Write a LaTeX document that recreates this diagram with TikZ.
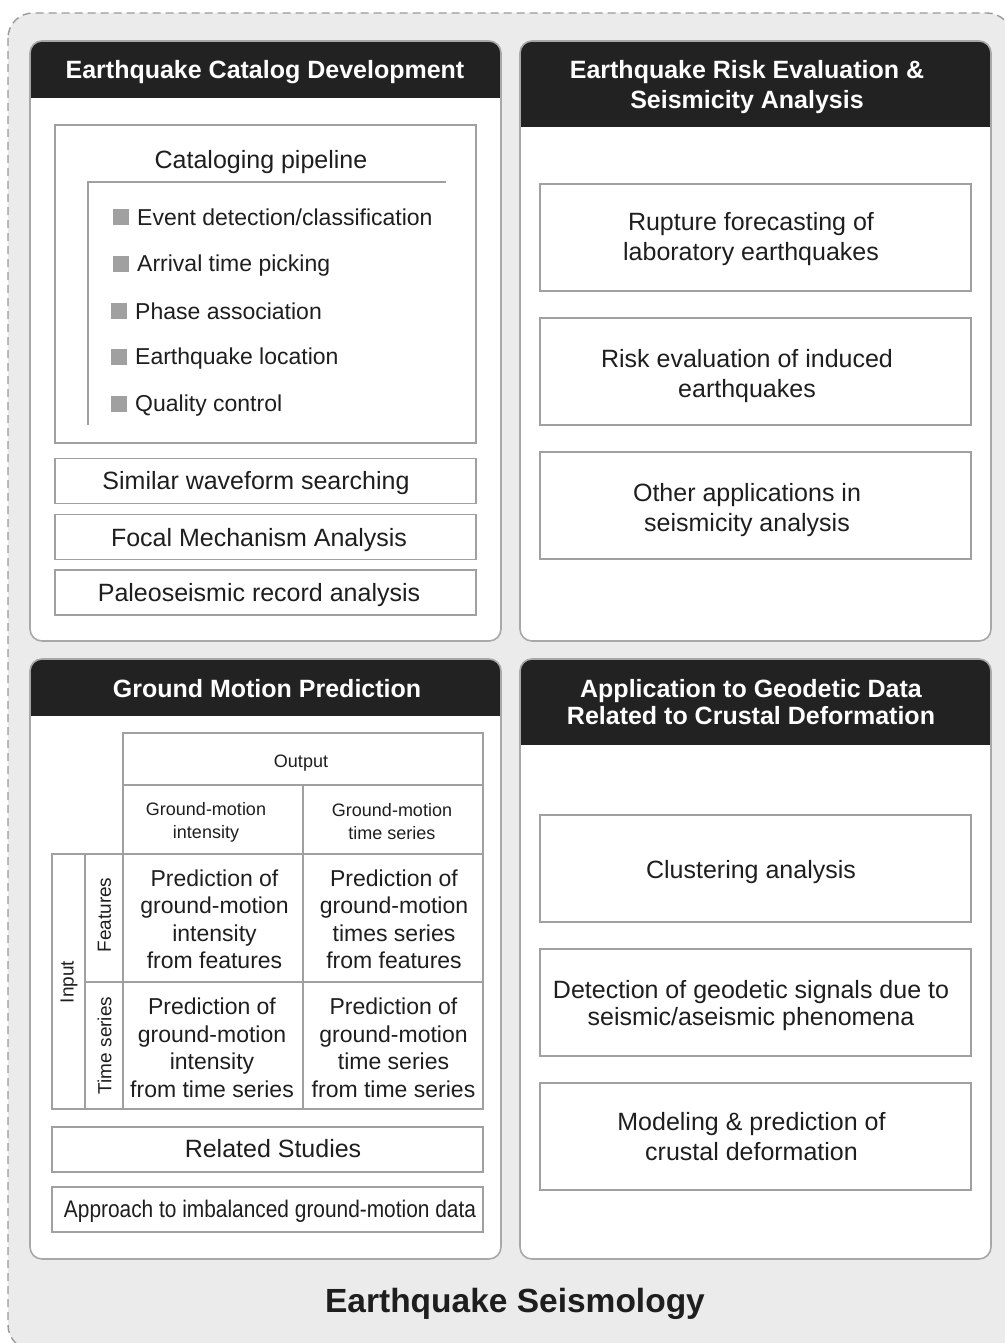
\documentclass[tikz,border=0pt]{standalone}
\usepackage{fontspec}
\setmainfont{Liberation Sans}
\definecolor{bg}{HTML}{EBEBEB}
\definecolor{hdr}{HTML}{222222}
\definecolor{bord}{HTML}{A0A0A0}
\definecolor{pbord}{HTML}{A8A8A8}
\definecolor{dashc}{HTML}{9A9A9A}
\definecolor{txt}{HTML}{1E1E1E}
\definecolor{bul}{HTML}{A0A0A0}
\begin{document}
\begin{tikzpicture}[x=1pt,y=-1pt,
  every node/.style={text=txt, inner sep=0pt},
  panel/.style={draw=pbord, line width=1.6pt, fill=white, rounded corners=12pt,
    minimum width=471pt, minimum height=600pt,
    path picture={\fill[hdr, sharp corners] (path picture bounding box.north west) rectangle ([yshift=-#1]path picture bounding box.north east);}},
  hdrtxt/.style={text=white, font=\bfseries\fontsize{25}{30}\selectfont, align=center},
  box/.style={draw=bord, line width=1.6pt, fill=white},
  boxt/.style={font=\fontsize{25}{30}\selectfont, align=center},
  cell/.style={draw=bord, line width=1.6pt},
  tab/.style={font=\fontsize{23}{27.5}\selectfont, align=center},
  small/.style={font=\fontsize{18}{23}\selectfont, align=center},
  rot/.style={font=\fontsize{19}{23}\selectfont, rotate=90},
  bullet/.style={fill=bul, minimum size=16pt},
  item/.style={font=\fontsize{23}{30}\selectfont, anchor=west}
]
\useasboundingbox (0,0) rectangle (1004,1343);
% outer background
\draw[draw=dashc, fill=bg, line width=1.4pt, dash pattern=on 8pt off 5pt, rounded corners=25pt] (8,13) rectangle (1012,1350);

% panels
\node[panel=57pt] (p1) at (265.5,341) {};
\node[panel=86pt] (p2) at (755.5,341) {};
\node[panel=57pt] (p3) at (265.5,959) {};
\node[panel=86pt] (p4) at (755.5,959) {};

\node[hdrtxt] (h1) at (265,72) {Earthquake Catalog Development};
\node[hdrtxt] (h2) at (747,87) {Earthquake Risk Evaluation \&\\Seismicity Analysis};
\node[hdrtxt] (h3) at (267,689) {Ground Motion Prediction};
\node[hdrtxt, font=\bfseries\fontsize{25}{27}\selectfont] (h4) at (751,702) {Application to Geodetic Data\\Related to Crustal Deformation};

% top-left contents
\node[box, minimum width=421pt, minimum height=318pt] (pipe) at (265.5,284) {};
\node[boxt] (pipet) at (261,162) {Cataloging pipeline};
\coordinate (brA) at (446,182);
\coordinate (brB) at (88,182);
\coordinate (brC) at (88,425);
\draw[draw=bord, line width=1.6pt] (brA) -- (brB) -- (brC);
\node[bullet] (b1) at (121,217) {};
\node[item] (i1) at (137,217) {Event detection/classification};
\node[bullet] (b2) at (121,264) {};
\node[item] (i2) at (137,266) {Arrival time picking};
\node[bullet] (b3) at (119,311) {};
\node[item] (i3) at (135,311) {Phase association};
\node[bullet] (b4) at (119,357) {};
\node[item] (i4) at (135,359) {Earthquake location};
\node[bullet] (b5) at (119,404) {};
\node[item] (i5) at (135,406) {Quality control};

\node[box, minimum width=421pt, minimum height=45pt] (sim) at (265.5,481) {};
\node[boxt] (simt) at (256,483) {Similar waveform searching};
\node[box, minimum width=421pt, minimum height=45pt] (foc) at (265.5,537) {};
\node[boxt] (foct) at (259,540) {Focal Mechanism Analysis};
\node[box, minimum width=421pt, minimum height=45pt] (pal) at (265.5,592.5) {};
\node[boxt] (palt) at (259,595.5) {Paleoseismic record analysis};

% top-right contents
\node[box, minimum width=431pt, minimum height=107pt] (r1) at (755.5,237.5) {};
\node[boxt] (r1t) at (751,239.5) {Rupture forecasting of\\laboratory earthquakes};
\node[box, minimum width=431pt, minimum height=107pt] (r2) at (755.5,371.5) {};
\node[boxt] (r2t) at (747,376.5) {Risk evaluation of induced\\earthquakes};
\node[box, minimum width=431pt, minimum height=107pt] (r3) at (755.5,505.5) {};
\node[boxt] (r3t) at (747,510.5) {Other applications in\\seismicity analysis};

% bottom-right contents
\node[box, minimum width=431pt, minimum height=107pt] (g1) at (755.5,868.5) {};
\node[boxt] (g1t) at (751,872.5) {Clustering analysis};
\node[box, minimum width=431pt, minimum height=107pt] (g2) at (755.5,1002.5) {};
\node[boxt, font=\fontsize{25}{27}\selectfont] (g2t) at (751,1005.5) {Detection of geodetic signals due to\\seismic/aseismic phenomena};
\node[box, minimum width=431pt, minimum height=107pt] (g3) at (755.5,1136.5) {};
\node[boxt] (g3t) at (751.5,1136.5) {Modeling \& prediction of\\crustal deformation};

% table
\node[cell, minimum width=360pt, minimum height=52pt] (out) at (303,759) {};
\node[small] (outt) at (301,763) {Output};
\node[cell, minimum width=180pt, minimum height=69pt] (gmi) at (213,819.5) {};
\node[small] (gmit) at (206,822) {Ground-motion\\intensity};
\node[cell, minimum width=180pt, minimum height=69pt] (gmt) at (393,819.5) {};
\node[small] (gmtt) at (392,822) {Ground-motion\\time series};
\node[cell, minimum width=33pt, minimum height=255pt] (inp) at (68.5,981.5) {};
\node[rot] (inpt) at (69,982) {Input};
\node[cell, minimum width=38pt, minimum height=128pt] (feat) at (104,918) {};
\node[rot] (featt) at (104.5,915) {Features};
\node[cell, minimum width=38pt, minimum height=127pt] (ts) at (104,1045.5) {};
\node[rot] (tst) at (104.5,1045.5) {Time series};
\node[cell, minimum width=180pt, minimum height=128pt] (c11) at (213,918) {};
\node[tab] (c11t) at (214.5,919.5) {Prediction of\\ground-motion\\intensity\\from features};
\node[cell, minimum width=180pt, minimum height=128pt] (c12) at (393,918) {};
\node[tab] (c12t) at (394,919.5) {Prediction of\\ground-motion\\times series\\from features};
\node[cell, minimum width=180pt, minimum height=127pt] (c21) at (213,1045.5) {};
\node[tab] (c21t) at (212,1048) {Prediction of\\ground-motion\\intensity\\from time series};
\node[cell, minimum width=180pt, minimum height=127pt] (c22) at (393,1045.5) {};
\node[tab] (c22t) at (393.5,1048) {Prediction of\\ground-motion\\time series\\from time series};

\node[box, minimum width=431pt, minimum height=45pt] (rel) at (267.5,1149.5) {};
\node[boxt] (relt) at (273,1148.5) {Related Studies};
\node[box, minimum width=431pt, minimum height=45pt] (app) at (267.5,1209.5) {};
\node[boxt, font=\fontsize{24}{30}\selectfont] (appt) at (270,1211.5) {\scalebox{0.87}[1]{Approach to imbalanced ground-motion data}};

% title
\node[font=\bfseries\fontsize{33.5}{40}\selectfont] (title) at (515,1304) {Earthquake Seismology};
\end{tikzpicture}
\end{document}
